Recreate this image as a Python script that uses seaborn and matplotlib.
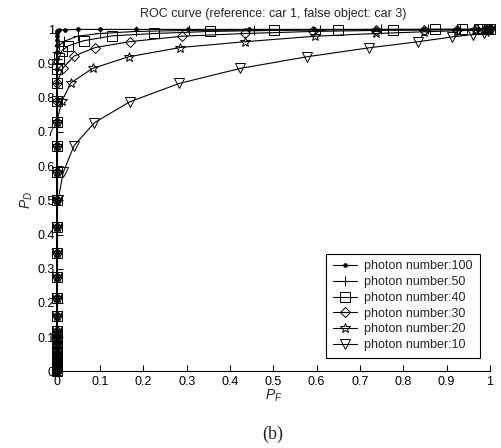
import numpy as np
import pandas as pd
import matplotlib
matplotlib.use("Agg")
import matplotlib.pyplot as plt
import seaborn as sns

# ---- data ----
# P_D values of the points that sit on the P_F = 0 axis (shared by all curves)
pd_on_axis = [0.0, 0.004, 0.009, 0.015, 0.022, 0.03, 0.04, 0.052, 0.066, 0.082,
              0.1, 0.119, 0.163, 0.214, 0.275, 0.345, 0.423, 0.50, 0.582, 0.66,
              0.728, 0.791, 0.844, 0.884, 0.912, 0.935, 0.955, 0.97, 0.982, 0.99]

photon_numbers = [100, 50, 40, 30, 20, 10]
# how many of the on-axis points each curve has before it leaves the axis
axis_counts = [30, 26, 24, 23, 21, 18]

pf100 = [0.001, 0.005, 0.019, 0.048, 0.099, 0.183, 0.304, 0.443, 0.593, 0.736, 0.848, 0.925, 0.970, 0.992, 1.0]
pd100 = [0.995, 0.998, 0.999, 1.0, 1.0, 1.0, 1.0, 1.0, 1.0, 1.0, 1.0, 1.0, 1.0, 1.0, 1.0]

pf50 = [0.005, 0.017, 0.048, 0.099, 0.183, 0.306, 0.455, 0.607, 0.748, 0.856, 0.930, 0.972, 0.993, 1.0]
pd50 = [0.952, 0.965, 0.980, 0.988, 0.994, 0.997, 0.998, 0.999, 1.0, 1.0, 1.0, 1.0, 1.0, 1.0]

pf40 = [0.005, 0.012, 0.027, 0.063, 0.127, 0.225, 0.353, 0.501, 0.649, 0.777, 0.873, 0.935, 0.975, 0.993, 1.0]
pd40 = [0.915, 0.938, 0.952, 0.967, 0.981, 0.988, 0.994, 0.997, 0.999, 0.999, 1.0, 1.0, 1.0, 1.0, 1.0]

pf30 = [0.015, 0.040, 0.089, 0.168, 0.289, 0.435, 0.591, 0.737, 0.848, 0.925, 0.968, 0.990, 1.0]
pd30 = [0.888, 0.922, 0.947, 0.964, 0.980, 0.988, 0.994, 0.997, 0.998, 0.999, 1.0, 1.0, 1.0]

pf20 = [0.012, 0.033, 0.083, 0.166, 0.285, 0.435, 0.596, 0.738, 0.848, 0.923, 0.965, 0.988, 0.997, 1.0]
pd20 = [0.791, 0.844, 0.886, 0.920, 0.947, 0.964, 0.980, 0.988, 0.993, 0.996, 0.998, 0.999, 1.0, 1.0]

pf10 = [0.003, 0.015, 0.040, 0.087, 0.168, 0.283, 0.424, 0.578, 0.720, 0.835, 0.913, 0.962, 0.987, 0.996, 1.0]
pd10 = [0.500, 0.582, 0.660, 0.727, 0.788, 0.842, 0.886, 0.920, 0.946, 0.964, 0.978, 0.985, 0.990, 0.995, 1.0]

tails_pf = [pf100, pf50, pf40, pf30, pf20, pf10]
tails_pd = [pd100, pd50, pd40, pd30, pd20, pd10]

tick_vals = [0, 0.1, 0.2, 0.3, 0.4, 0.5, 0.6, 0.7, 0.8, 0.9, 1]
tick_labels = ["0", "0.1", "0.2", "0.3", "0.4", "0.5", "0.6", "0.7", "0.8", "0.9", "1"]

# ---- build long table ----
rows = []
for n, cnt, tpf, tpd in zip(photon_numbers, axis_counts, tails_pf, tails_pd):
    xs = [0.0] * cnt + list(tpf)
    ys = list(pd_on_axis[:cnt]) + list(tpd)
    for i, (x, y) in enumerate(zip(xs, ys)):
        rows.append({"photon": n, "order": i, "PF": x, "PD": y})
df = pd.DataFrame(rows)

# ---- style ----
sns.set_style("ticks")
plt.rcParams["font.family"] = ["Liberation Sans", "DejaVu Sans"]
plt.rcParams["mathtext.fontset"] = "custom"
plt.rcParams["mathtext.rm"] = "Liberation Sans"
plt.rcParams["mathtext.it"] = "Liberation Sans:italic"
plt.rcParams["font.size"] = 9

fig = plt.figure(figsize=(5.02, 4.48), dpi=100)
ax = fig.add_axes([0.113, 0.171, 0.863, 0.7634])

styles = {
    100: dict(marker="o", markersize=2.6, markerfacecolor="k"),
    50: dict(marker="+", markersize=7, markerfacecolor="none"),
    40: dict(marker="s", markersize=6.5, markerfacecolor="none"),
    30: dict(marker="D", markersize=5.5, markerfacecolor="none"),
    20: dict(marker="*", markersize=7.5, markerfacecolor="none"),
    10: dict(marker="v", markersize=7, markerfacecolor="none"),
}

for n in photon_numbers:
    sub = df[df["photon"] == n]
    sns.lineplot(data=sub, x="PF", y="PD", sort=False, estimator=None, ax=ax,
                 color="k", linewidth=0.8, markeredgecolor="k",
                 markeredgewidth=0.7, clip_on=False,
                 label=f"photon number:{n}", **styles[n])

ax.set_xlim(0, 1)
ax.set_ylim(0, 1)
ax.set_xticks(tick_vals)
ax.set_xticklabels(tick_labels)
ax.set_yticks(tick_vals)
ax.set_yticklabels(tick_labels)
ax.tick_params(direction="in", length=4, width=0.8, colors="k", labelsize=9, pad=3)
ax.tick_params(axis="y", pad=1.5)
for s in ["top", "right"]:
    ax.spines[s].set_visible(False)
for s in ["left", "bottom"]:
    ax.spines[s].set_color("k")
    ax.spines[s].set_linewidth(0.8)

ax.set_title("ROC curve (reference: car 1, false object: car 3)", fontsize=9, pad=9)
ax.set_xlabel("$P_F$", fontsize=10, labelpad=0)
ax.set_ylabel("$P_D$", fontsize=10, labelpad=1.5)

leg = ax.legend(loc="lower right", bbox_to_anchor=(0.976, 0.039), frameon=True,
                fancybox=False, framealpha=1, edgecolor="k", fontsize=9,
                handlelength=1.9, labelspacing=0.3, borderpad=0.55,
                handletextpad=0.6, borderaxespad=0)
leg.get_frame().set_linewidth(0.8)

fig.text(0.544, 0.012, "(b)", family=["Liberation Serif", "DejaVu Serif"], fontsize=13,
         ha="center", va="bottom")

fig.savefig("out.png", dpi=100)
